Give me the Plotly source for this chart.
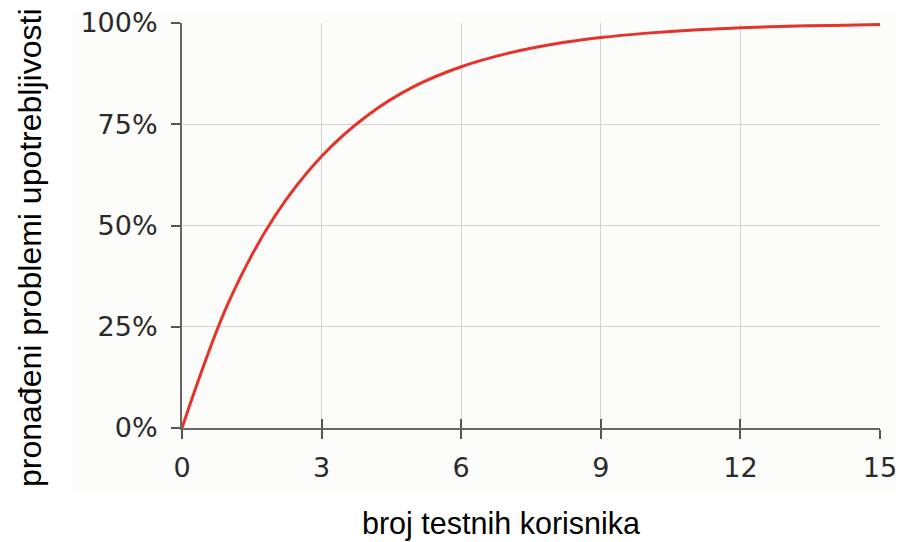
import plotly.graph_objects as go

users = [0, 1, 2, 3, 4, 5, 6, 7, 8, 9, 10, 11, 12, 13, 14, 15]
found = [0.0, 0.31, 0.524, 0.671, 0.773, 0.844, 0.892, 0.925, 0.948, 0.964, 0.975, 0.983, 0.988, 0.992, 0.994, 0.996]
x_ticks = [0, 3, 6, 9, 12, 15]
y_ticks = [0, 0.25, 0.5, 0.75, 1.0]
y_tick_labels = ["0%", "25%", "50%", "75%", "100%"]

W, H = 900, 542
L, T = 182, 23
R = W - 880
B = H - 428
pw, ph = W - L - R, H - T - B


def px(sx):
    return (sx - L) / pw


def py(sy):
    return (H - B - sy) / ph


fig = go.Figure()
fig.add_trace(go.Scatter(x=users, y=found, mode="lines", line=dict(color="#e5332a", width=3, shape="spline"),
                         cliponaxis=False, showlegend=False, hoverinfo="skip"))
fig.add_trace(go.Scatter(x=[0], y=[0], xaxis="x2", mode="markers", marker=dict(opacity=0), showlegend=False, hoverinfo="skip"))

tickfont = dict(family="DejaVu Sans", size=27, color="#2a2a2a")
fig.update_layout(
    width=W, height=H,
    margin=dict(l=L, r=R, t=T, b=B, autoexpand=False),
    paper_bgcolor="white",
    plot_bgcolor="#fcfcfb",
    xaxis=dict(range=[0, 15], tickvals=x_ticks, ticktext=[str(v) for v in x_ticks],
               showgrid=True, gridcolor="#d2d2d2", gridwidth=1,
               showline=True, linecolor="#666666", linewidth=2,
               ticks="outside", ticklen=9, tickwidth=2, tickcolor="#555555",
               ticklabelstandoff=6, ticklabeloverflow="allow",
               tickfont=tickfont, zeroline=False, fixedrange=True, automargin=False),
    xaxis2=dict(range=[0, 15], overlaying="x", tickvals=x_ticks, showticklabels=False,
                ticks="inside", ticklen=9, tickwidth=2, tickcolor="#555555",
                showgrid=False, showline=False, zeroline=False, side="bottom", automargin=False),
    yaxis=dict(range=[0, 1], tickvals=y_ticks, ticktext=y_tick_labels,
               showgrid=True, gridcolor="#d2d2d2", gridwidth=1,
               showline=True, linecolor="#666666", linewidth=2,
               ticks="outside", ticklen=9, tickwidth=2, tickcolor="#555555",
               ticklabelstandoff=8, ticklabeloverflow="allow",
               tickfont=tickfont, zeroline=False, fixedrange=True, automargin=False),
    shapes=[dict(type="rect", xref="paper", yref="paper",
                 x0=px(72), x1=px(896), y0=py(493), y1=py(12),
                 fillcolor="#fcfcfb", line=dict(width=0), layer="below")],
    annotations=[
        dict(text="broj testnih korisnika", xref="paper", yref="paper",
             x=px(501), y=py(523), showarrow=False,
             font=dict(family="Liberation Sans", size=30.5, color="black"),
             xanchor="center", yanchor="middle"),
        dict(text="pronađeni problemi upotrebljivosti", xref="paper", yref="paper",
             x=px(30), y=py(248), showarrow=False, textangle=-90,
             font=dict(family="Liberation Sans", size=32, color="black"),
             xanchor="center", yanchor="middle"),
    ],
)
fig.write_html("out.html", config={"displayModeBar": False, "staticPlot": True},
               post_script="document.body.style.margin='0px';")
